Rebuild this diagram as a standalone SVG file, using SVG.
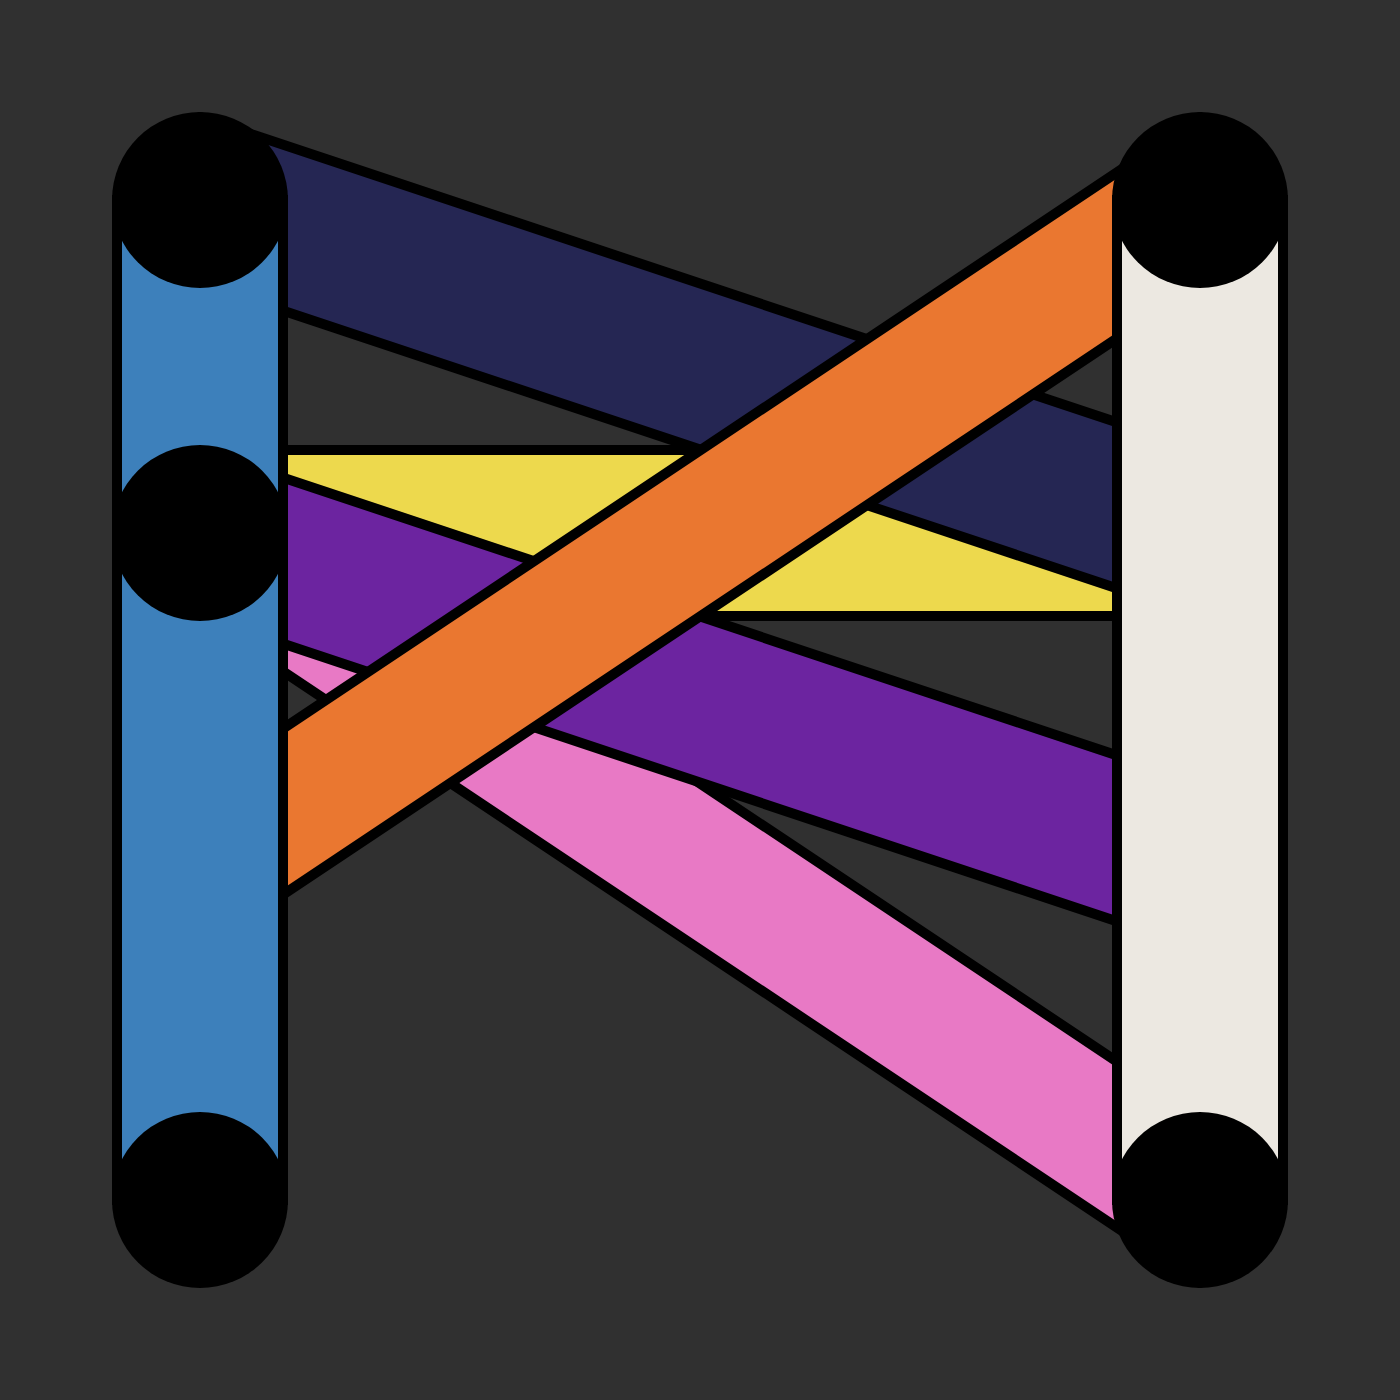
<svg xmlns="http://www.w3.org/2000/svg" width="1400" height="1400" viewBox="0 0 1400 1400">
  <style>
    .band { stroke: #000000; stroke-width: 10; stroke-linejoin: round; }
    .bar { stroke: #000000; stroke-width: 10; }
    .dot { fill: #000000; }
  </style>
  <rect x="0" y="0" width="1400" height="1400" fill="#303030"/>
  <g id="links">
    <polygon class="band" fill="#e879c5" points="200,450 1200,1117 1200,1283 200,616"/>
    <polygon class="band" fill="#edd94d" points="200,450 1200,450 1200,616 200,616"/>
    <polygon class="band" fill="#252653" points="200,117 1200,450 1200,616 200,283"/>
    <polygon class="band" fill="#6c24a0" points="200,450 1200,783 1200,949 200,616"/>
    <polygon class="band" fill="#ea7730" points="200,784 1200,117 1200,283 200,950"/>
  </g>
  <g id="node-left">
    <rect class="bar" x="117" y="200" width="166" height="1000" fill="#3d80bb"/>
    <circle class="dot" cx="200" cy="200" r="88"/>
    <circle class="dot" cx="200" cy="533" r="88"/>
    <circle class="dot" cx="200" cy="1200" r="88"/>
  </g>
  <g id="node-right">
    <rect class="bar" x="1117" y="200" width="166" height="1000" fill="#ece8e1"/>
    <circle class="dot" cx="1200" cy="200" r="88"/>
    <circle class="dot" cx="1200" cy="1200" r="88"/>
  </g>
</svg>
